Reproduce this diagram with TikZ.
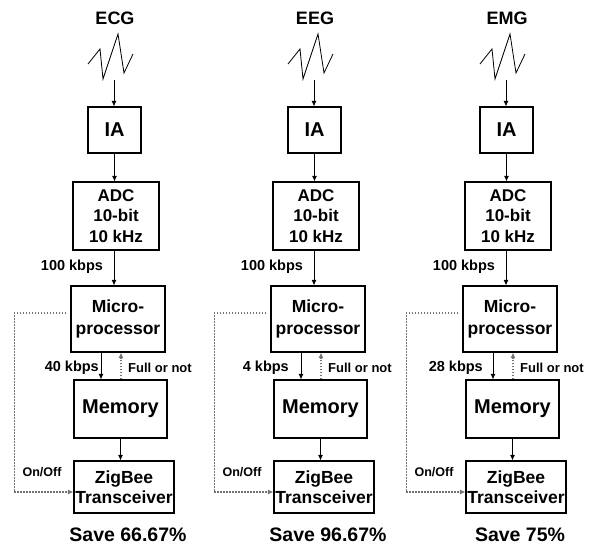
\documentclass[tikz,border=0pt]{standalone}
\usepackage{fontspec}
\setmainfont{Liberation Sans}
\usetikzlibrary{arrows.meta}

\tikzset{
  blk/.style={draw, line width=1.1pt, inner sep=0pt, align=center},
  arr/.style={-{Latex[length=5.5pt,width=5pt]}, line width=0.9pt},
  dotarr/.style={black!55, dash pattern=on 1.5pt off 1.5pt, line width=1.7pt, -{Latex[length=5.5pt,width=5pt]}},
  ttl/.style={font=\fontsize{18}{20}\bfseries\selectfont},
  lbl/.style={font=\fontsize{14.5}{16}\bfseries\selectfont, inner sep=0pt},
  small/.style={font=\fontsize{13}{15}\bfseries\selectfont, inner sep=0pt},
}

\begin{document}
\begin{tikzpicture}[x=1pt, y=-1pt]
  \useasboundingbox (0,0) rectangle (590,547);

  \foreach \dx/\nm/\sig/\rate/\lx/\sv in {0/1/ECG/40/99/66.67, 200/2/EEG/4/89/96.67, 392/3/EMG/28/91/75} {
    \begin{scope}[xshift=\dx]
      % signal and front end
      \node[ttl] (ttl\nm) at (115,18) {\sig};
      \draw[line width=0.8pt] (88,64) -- (100,49) -- (103,79) -- (118,34) -- (124,73) -- (133,54);
      \coordinate (sig\nm) at (114,80);

      \node[blk, minimum width=53, minimum height=46,
            font=\fontsize{20}{22}\bfseries\selectfont] (ia\nm) at (114.5,130) {IA};
      \node[blk, minimum width=86, minimum height=68,
            font=\fontsize{17}{20.5}\bfseries\selectfont] (adc\nm) at (116,216) {ADC\\10-bit\\10 kHz};
      \node[blk, minimum width=94, minimum height=66,
            font=\fontsize{17.5}{22}\bfseries\selectfont] (mp\nm) at (118,319) {Micro-\\processor};
      \node[blk, minimum width=93, minimum height=58,
            font=\fontsize{20}{22}\bfseries\selectfont] (mem\nm) at (120.5,409) {Memory};
      \node[blk, minimum width=100, minimum height=52,
            font=\fontsize{17.5}{20}\bfseries\selectfont] (zb\nm) at (124,487) {ZigBee\\Transceiver};

      \draw[arr] (sig\nm) -- (sig\nm |- ia\nm.north);
      \draw[arr] (ia\nm.south) -- (ia\nm.south |- adc\nm.north);
      \draw[arr] ([xshift=-2pt]adc\nm.south) -- ([xshift=-2pt]adc\nm.south |- mp\nm.north);
      \draw[arr] ([xshift=-17pt]mp\nm.south) -- ([xshift=-17pt]mp\nm.south |- mem\nm.north);
      \draw[dotarr] ([xshift=3pt]mp\nm.south |- mem\nm.north) -- ([xshift=3pt]mp\nm.south);
      \draw[arr] (mem\nm.south) -- (mem\nm.south |- zb\nm.north);
      \draw[dotarr] ([xshift=-4pt,yshift=6pt]mp\nm.west) -- ++(-52,0) |- ([yshift=-5pt]zb\nm.west);

      % rates and labels
      \node[lbl] (in\nm) at (72,267) {100 kbps};
      \node[lbl, anchor=east] (out\nm) at (\lx,368) {\rate\ kbps};
      \node[small, anchor=west] (full\nm) at (128,368) {Full or not};
      \node[small, font=\fontsize{12.5}{14}\bfseries\selectfont] (onoff\nm) at (42,472) {On/Off};
      \node[font=\fontsize{19.5}{21}\bfseries\selectfont] (save\nm) at (128,535) {Save \sv\%};
    \end{scope}
  }
\end{tikzpicture}
\end{document}
